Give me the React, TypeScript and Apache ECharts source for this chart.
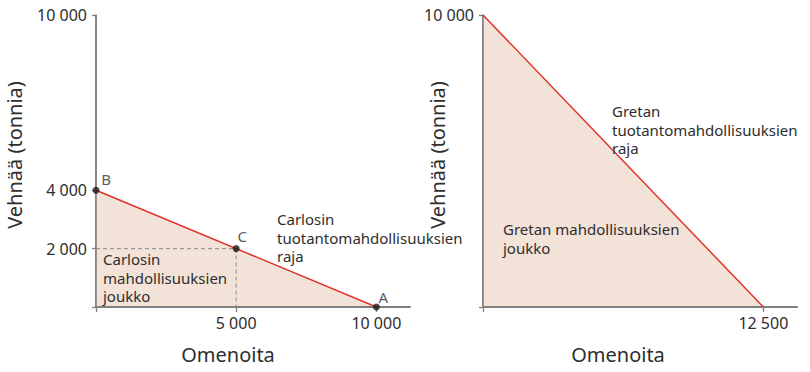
import React, { useEffect, useRef } from "react";
import * as echarts from "echarts";

// Carlos (left panel)
const carlosFrontier: number[][] = [[0, 4000], [10000, 0]];
const carlosPoints = [
  { name: "B", value: [0, 4000] },
  { name: "C", value: [5000, 2000] },
  { name: "A", value: [10000, 0] },
];
const carlosDashed: number[][] = [[0, 2000], [5000, 2000], [5000, 0]];
const carlosXTicks = [0, 5000, 10000];
const carlosXLabels = [5000, 10000];
const carlosYTicks = [0, 2000, 4000, 10000];
const carlosYLabels = [2000, 4000, 10000];

// Greta (right panel)
const gretaFrontier: number[][] = [[0, 10000], [12500, 0]];
const gretaXTicks = [0, 12500];
const gretaXLabels = [12500];
const gretaYTicks = [0, 10000];
const gretaYLabels = [10000];

const FONT = "Noto Sans";
const TXT = "#2e2e2e";
const AXIS = "#808080";
const RED = "#e0332b";
const FILL = "#f2e2d8";

const fmt = (v: number) => String(v).replace(/\B(?=(\d{3})+(?!\d))/g, " ");

function xAxis(grid: number, max: number, ticks: number[], labels: number[]) {
  return {
    type: "value", gridIndex: grid, min: 0, max,
    splitLine: { show: false },
    axisLine: { show: true, lineStyle: { color: AXIS, width: 2 } },
    axisTick: { show: true, length: 5, customValues: ticks, lineStyle: { color: AXIS, width: 1.3 } },
    axisLabel: { show: true, customValues: labels, formatter: fmt, fontFamily: FONT, fontSize: 16, color: TXT, margin: 8 },
  };
}
function yAxis(grid: number, ticks: number[], labels: number[]) {
  return {
    type: "value", gridIndex: grid, min: 0, max: 10000,
    splitLine: { show: false },
    axisLine: { show: true, lineStyle: { color: AXIS, width: 1.6 } },
    axisTick: { show: true, length: 4, customValues: ticks, lineStyle: { color: AXIS, width: 1.3 } },
    axisLabel: { show: true, customValues: labels, formatter: fmt, fontFamily: FONT, fontSize: 16, color: TXT, margin: 9 },
  };
}

// axis baselines drawn above the filled area (y = 0 and x = 0 across the grid)
const axisBaselines = {
  silent: true,
  symbol: "none",
  label: { show: false },
  emphasis: { disabled: true },
  lineStyle: { color: AXIS, width: 1.6, type: "solid" },
  data: [
    { yAxis: 0, lineStyle: { color: AXIS, width: 2, type: "solid" } },
    { xAxis: 0 },
  ],
};

const labelOffsets: Record<string, number[]> = { B: [10, -11], C: [6, -13], A: [7, -10] };

export default function App() {
  const ref = useRef<HTMLDivElement>(null);
  useEffect(() => {
    if (!ref.current) return;
    const chart = echarts.init(ref.current, null, { renderer: "svg" });
    const annot = (x: number, y: number, text: string) => ({
      type: "text", left: x, top: y, z: 100,
      style: { text, fontFamily: FONT, fontSize: 15, lineHeight: 18.5, fill: TXT },
    });
    const title = (x: number, y: number, text: string, rotate = 0) => ({
      type: "text", x, y, rotation: rotate, z: 100,
      style: { text, fontFamily: FONT, fontSize: 20, fill: TXT, align: "center", verticalAlign: "middle" },
    });
    chart.setOption({
      animation: false,
      grid: [
        { left: 96, top: 15, width: 314, height: 292 },
        { left: 483, top: 15, width: 314, height: 292 },
      ],
      xAxis: [
        xAxis(0, 11200, carlosXTicks, carlosXLabels),
        xAxis(1, 14000, gretaXTicks, gretaXLabels),
      ],
      yAxis: [
        yAxis(0, carlosYTicks, carlosYLabels),
        yAxis(1, gretaYTicks, gretaYLabels),
      ],
      series: [
        {
          type: "line", xAxisIndex: 0, yAxisIndex: 0, data: carlosFrontier, symbol: "none",
          lineStyle: { width: 0, opacity: 0 }, areaStyle: { color: FILL, opacity: 1 }, z: 1,
        },
        {
          type: "line", xAxisIndex: 1, yAxisIndex: 1, data: gretaFrontier, symbol: "none",
          lineStyle: { width: 0, opacity: 0 }, areaStyle: { color: FILL, opacity: 1 }, z: 1,
        },
        {
          type: "line", xAxisIndex: 0, yAxisIndex: 0, data: carlosDashed, symbol: "none",
          lineStyle: { color: "#9a9a9a", width: 1.2, type: [4, 3] }, z: 4,
          markLine: axisBaselines,
        },
        {
          type: "line", xAxisIndex: 0, yAxisIndex: 0, data: carlosFrontier, symbol: "none",
          lineStyle: { color: RED, width: 1.5 }, z: 6,
        },
        {
          type: "line", xAxisIndex: 1, yAxisIndex: 1, data: gretaFrontier, symbol: "none",
          lineStyle: { color: RED, width: 1.5 }, z: 6,
          markLine: axisBaselines,
        },
        {
          type: "scatter", xAxisIndex: 0, yAxisIndex: 0, symbolSize: 7, z: 20,
          itemStyle: { color: "#1a1a1a" },
          data: carlosPoints.map((p) => ({
            name: p.name, value: p.value,
            label: {
              show: true, position: "inside", offset: labelOffsets[p.name], formatter: p.name,
              fontFamily: FONT, fontSize: 15, color: TXT,
            },
          })),
        },
      ],
      graphic: [
        title(228, 354, "Omenoita"),
        title(618, 354, "Omenoita"),
        title(14, 155, "Vehnää (tonnia)", Math.PI / 2),
        title(437, 155, "Vehnää (tonnia)", Math.PI / 2),
        annot(277, 210, "Carlosin\ntuotantomahdollisuuksien\nraja"),
        annot(103, 250, "Carlosin\nmahdollisuuksien\njoukko"),
        annot(612, 102, "Gretan\ntuotantomahdollisuuksien\nraja"),
        annot(503, 220, "Gretan mahdollisuuksien\njoukko"),
      ],
    });
    return () => chart.dispose();
  }, []);
  return <div ref={ref} style={{ width: 810, height: 372, position: "absolute", left: 0, top: 0 }} />;
}
